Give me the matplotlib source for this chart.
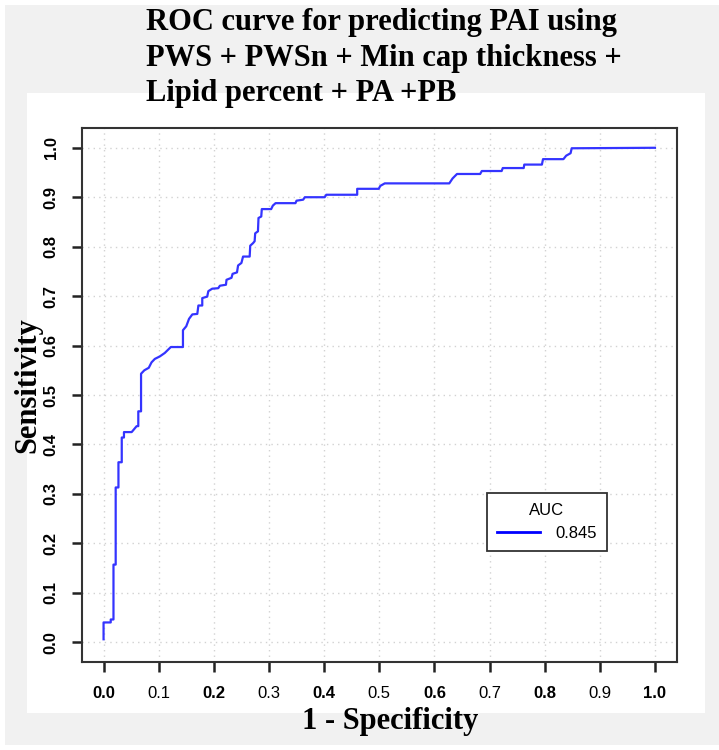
import matplotlib
matplotlib.use("Agg")
import matplotlib.pyplot as plt
from matplotlib.patches import Rectangle

# ROC curve vertices
fpr = [0.000, 0.000, 0.013, 0.013, 0.018, 0.018, 0.022, 0.022, 0.027, 0.027,
       0.033, 0.033, 0.037, 0.037, 0.051, 0.060, 0.063, 0.063, 0.068, 0.068,
       0.074, 0.082, 0.087, 0.093, 0.102, 0.111, 0.122, 0.144, 0.144, 0.150,
       0.155, 0.161, 0.170, 0.172, 0.179, 0.179, 0.188, 0.190, 0.197, 0.208,
       0.211, 0.222, 0.223, 0.232, 0.234, 0.242, 0.244, 0.250, 0.253, 0.265,
       0.266, 0.271, 0.274, 0.275, 0.280, 0.281, 0.286, 0.287, 0.304, 0.307,
       0.312, 0.348, 0.350, 0.362, 0.365, 0.401, 0.404, 0.460, 0.460, 0.499,
       0.502, 0.510, 0.627, 0.633, 0.641, 0.683, 0.686, 0.722, 0.724, 0.762,
       0.763, 0.795, 0.797, 0.834, 0.839, 0.847, 0.849, 1.000]
tpr = [0.006, 0.040, 0.040, 0.046, 0.046, 0.157, 0.157, 0.313, 0.313, 0.364,
       0.364, 0.414, 0.414, 0.425, 0.425, 0.437, 0.437, 0.467, 0.467, 0.543,
       0.550, 0.555, 0.566, 0.573, 0.578, 0.585, 0.597, 0.597, 0.631, 0.639,
       0.654, 0.663, 0.664, 0.681, 0.681, 0.696, 0.699, 0.710, 0.715, 0.716,
       0.721, 0.723, 0.733, 0.737, 0.745, 0.748, 0.762, 0.767, 0.780, 0.780,
       0.802, 0.807, 0.811, 0.827, 0.831, 0.858, 0.861, 0.876, 0.876, 0.883,
       0.888, 0.888, 0.893, 0.895, 0.900, 0.900, 0.905, 0.905, 0.917, 0.917,
       0.923, 0.928, 0.928, 0.938, 0.947, 0.947, 0.953, 0.953, 0.959, 0.959,
       0.966, 0.966, 0.977, 0.977, 0.984, 0.989, 0.999, 1.000]
ticks = [0.0, 0.1, 0.2, 0.3, 0.4, 0.5, 0.6, 0.7, 0.8, 0.9, 1.0]
tick_labels = ["0.0", "0.1", "0.2", "0.3", "0.4", "0.5", "0.6", "0.7", "0.8", "0.9", "1.0"]
auc_label = "0.845"

W, H = 719, 750
fig = plt.figure(figsize=(W / 100, H / 100), dpi=100, facecolor="white")

# grey slide background and white panel behind the plot
fig.patches.append(Rectangle((5 / W, 5 / H), 714 / W, 740 / H,
                             transform=fig.transFigure, facecolor="#f1f1f1",
                             edgecolor="none", zorder=-2))
fig.patches.append(Rectangle((27 / W, (H - 713) / H), 678 / W, 620 / H,
                             transform=fig.transFigure, facecolor="white",
                             edgecolor="none", zorder=-1))

ax = fig.add_axes([81.5 / W, (H - 662) / H, 595.5 / W, 534 / H])
ax.set_facecolor("white")
ax.plot(fpr, tpr, color="#3434ff", lw=1.6, label=auc_label, zorder=3)

ax.set_xlim(-0.04, 1.04)
ax.set_ylim(-0.04, 1.04)
ax.set_xticks(ticks)
ax.set_yticks(ticks)
ax.set_xticklabels(tick_labels, family="Liberation Sans", fontsize=12)
ax.set_yticklabels(tick_labels, family="Liberation Sans", fontsize=12,
                   fontweight="bold", rotation=90, va="center")
for i, t in enumerate(ax.get_xticklabels()):
    if i % 2 == 0:
        t.set_fontweight("bold")
ax.tick_params(axis="both", direction="out", length=7.5, width=1.8, color="#222222")
ax.tick_params(axis="x", pad=10)
ax.tick_params(axis="y", pad=9)
ax.grid(True, color="#d2d2d2", linestyle=(0, (1, 3)), lw=1)
for s in ax.spines.values():
    s.set_linewidth(1.5)
    s.set_color("#333333")

leg = ax.legend(loc="upper left", bbox_to_anchor=(0.695, 0.302),
                bbox_transform=ax.transData, borderaxespad=0, title="AUC",
                fancybox=False, framealpha=1, edgecolor="#333333",
                borderpad=0.6, handlelength=2.6, handletextpad=0.9,
                prop={"family": "Liberation Sans", "size": 12},
                title_fontproperties={"family": "Liberation Sans", "size": 12})
leg.get_frame().set_linewidth(1.3)
leg.get_lines()[0].set_linewidth(2)
leg.get_lines()[0].set_color("blue")

fig.text(146 / W, 1 - 8 / H,
         "ROC curve for predicting PAI using\nPWS + PWSn + Min cap thickness +\nLipid percent + PA +PB",
         family="Liberation Serif", fontweight="bold", fontsize=22,
         ha="left", va="top", linespacing=1.3)
fig.text(28 / W, 1 - 385 / H, "Sensitivity", family="Liberation Serif",
         fontweight="bold", fontsize=22, rotation=90, ha="center", va="center")
fig.text(390 / W, 1 - 722 / H, "1 - Specificity", family="Liberation Serif",
         fontweight="bold", fontsize=22, ha="center", va="center")

fig.savefig("out.png", dpi=100, facecolor=fig.get_facecolor())
